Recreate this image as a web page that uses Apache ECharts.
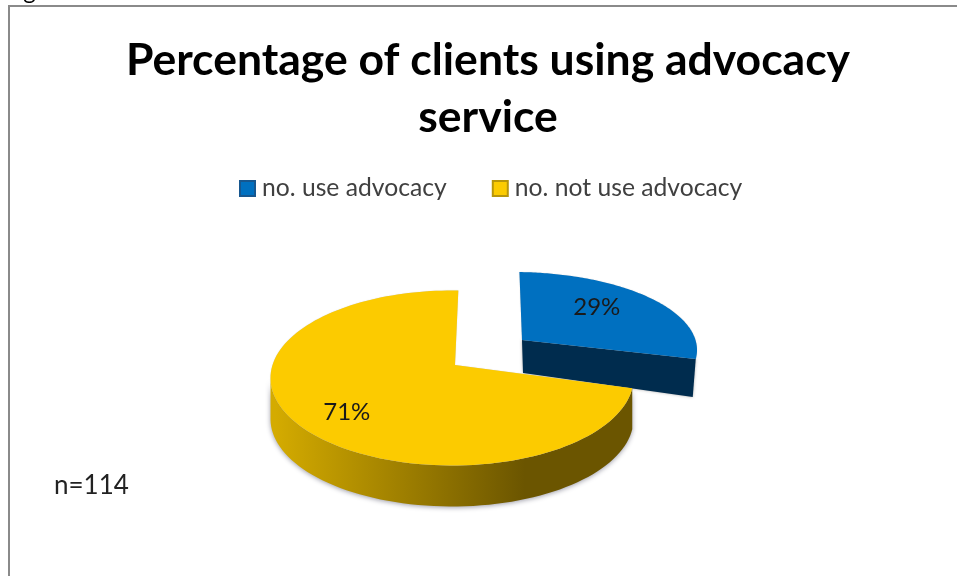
<!DOCTYPE html>
<html>
<head>
<meta charset="utf-8">
<style>html,body{margin:0;padding:0;background:#fff;overflow:hidden}</style>
<script src="https://cdn.jsdelivr.net/npm/echarts@6/dist/echarts.min.js"></script>
</head>
<body>
<div id="main" style="width:957px;height:576px;"></div>
<script>
var names = ['no. use advocacy', 'no. not use advocacy'];
var percents = [29, 71];
var topColors = ['#0070C0', '#FCCB00'];
var iconBorders = ['#17578F', '#B8960A'];

// how each slice sits on the page (ellipse of its top face)
var shapes = [
    {cx: 513, cy: 350, rx: 184, ry: 78, ax: 522, ay: 340, depth: 35, labelF: 0.63, labelDy: -9},
    {cx: 452, cy: 378, rx: 181.5, ry: 87.5, ax: 455, ay: 365, depth: 41, labelF: 0.656, labelDy: 7}
];

var total = percents[0] + percents[1];
var RAD = Math.PI / 180;

// pie angle (deg clockwise from top) to ellipse parameter, the 3d tilt squeezes it a bit
function tiltAngle(a) {
    return a + 2 - 10 * Math.sin(a * RAD);
}
function rimPoint(s, a, f) {
    var t = tiltAngle(a) * RAD;
    return [s.cx + s.rx * f * Math.sin(t), s.cy - s.ry * f * Math.cos(t)];
}

function makeRender(index) {
    return function (params, api) {
        var s = shapes[index];
        var start = 0;
        for (var i = 0; i < index; i++) start += percents[i] / total * 360;
        var end = start + api.value(0) / total * 360;
        var steps = 120, a, p, k;
        var rim = [];
        for (k = 0; k <= steps; k++) {
            a = start + (end - start) * k / steps;
            rim.push(rimPoint(s, a, 1));
        }
        var children = [];

        // outer wall, only the part facing us
        var wallTop = [], wallBottom = [];
        for (k = 0; k <= steps; k++) {
            a = start + (end - start) * k / steps;
            if (Math.cos(tiltAngle(a) * RAD) < 0) {
                p = rimPoint(s, a, 1);
                wallTop.push(p);
                wallBottom.unshift([p[0], p[1] + s.depth]);
            }
        }
        if (index === 1) {
            children.push({
                type: 'polygon',
                shape: {points: wallTop.concat(wallBottom)},
                style: {
                    fill: new echarts.graphic.LinearGradient(275, 0, 525, 0, [
                        {offset: 0, color: '#D4AB00'},
                        {offset: 1, color: '#6B5500'}
                    ], true),
                    shadowBlur: 5,
                    shadowColor: 'rgba(90,90,110,0.6)',
                    shadowOffsetY: 1
                }
            });
        } else {
            // cut face of the pulled out slice
            var corner = rim[rim.length - 1];
            children.push({
                type: 'polygon',
                shape: {points: [
                    [s.ax, s.ay], corner,
                    [corner[0] - 3, corner[1] + s.depth + 3],
                    [s.ax + 1, s.ay + s.depth - 2]
                ]},
                style: {fill: '#002C4E', shadowBlur: 3, shadowColor: 'rgba(90,90,90,0.5)'}
            });
        }

        children.push({
            type: 'polygon',
            shape: {points: rim.concat([[s.ax, s.ay]])},
            style: {
                fill: topColors[index],
                shadowBlur: 1,
                shadowColor: 'rgba(110,110,110,0.4)'
            }
        });

        var mid = rimPoint(s, (start + end) / 2, s.labelF);
        children.push({
            type: 'text',
            z2: 10,
            style: {
                text: api.value(0) + '%',
                x: mid[0],
                y: mid[1] + s.labelDy,
                align: 'center',
                verticalAlign: 'middle',
                fill: '#1a1a1a',
                font: '24px Lato'
            }
        });
        return {type: 'group', children: children};
    };
}

var series = [];
var legendData = [];
for (var n = 0; n < names.length; n++) {
    series.push({
        name: names[n],
        type: 'custom',
        coordinateSystem: 'none',
        renderItem: makeRender(n),
        itemStyle: {color: topColors[n]},
        data: [[percents[n]]],
        z: n + 1,
        silent: true
    });
    legendData.push({
        name: names[n],
        itemStyle: {color: topColors[n], borderColor: iconBorders[n], borderWidth: 2}
    });
}

var chart = echarts.init(document.getElementById('main'));
chart.setOption({
    animation: false,
    backgroundColor: '#fff',
    title: {
        text: 'Percentage of clients using advocacy\nservice',
        left: 483,
        top: 27,
        textAlign: 'center',
        textStyle: {
            fontFamily: 'Lato',
            fontWeight: 'bold',
            fontSize: 44.5,
            lineHeight: 57,
            color: '#000'
        }
    },
    legend: {
        left: 234,
        top: 171,
        itemWidth: 15,
        itemHeight: 15,
        itemGap: 45,
        icon: 'rect',
        data: legendData,
        selectedMode: false,
        textStyle: {fontFamily: 'Lato', fontSize: 24.7, color: '#404040', padding: [0, 0, 0, 2]}
    },
    graphic: [
        {type: 'line', shape: {x1: 8, y1: 6, x2: 957, y2: 6}, style: {stroke: '#8a8a8a', lineWidth: 2}},
        {type: 'line', shape: {x1: 9, y1: 6, x2: 9, y2: 576}, style: {stroke: '#8a8a8a', lineWidth: 2}},
        {type: 'text', left: 54, top: 473, style: {text: 'n=114', font: '26px Lato', fill: '#222'}},
        {type: 'text', left: 4, top: -21, style: {text: 'Fig', font: '24px Lato', fill: '#000'}}
    ],
    series: series
});
</script>
</body>
</html>
